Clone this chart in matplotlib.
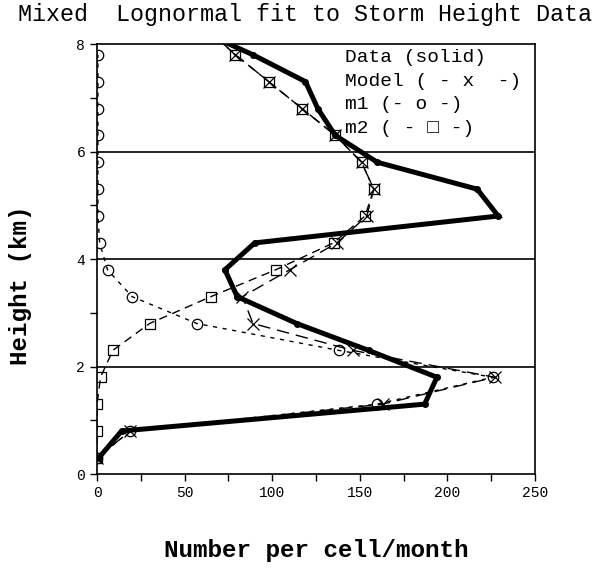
import matplotlib.pyplot as plt
import numpy as np
from matplotlib.ticker import MultipleLocator

# heights (km) of each bin, bottom to top
height = [0.3, 0.8, 1.3, 1.8, 2.3, 2.8, 3.3, 3.8, 4.3, 4.8, 5.3, 5.8, 6.3, 6.8, 7.3, 7.8, 8.3]

# counts per cell/month
data  = [1, 14, 187, 194, 155, 114, 80, 73, 90, 229, 217, 160, 136, 126, 119, 89, 55]
model = [0, 19, 163, 227, 146, 89, 83, 110, 137, 154, 158, 151, 136, 117, 98, 79, 62]
m1    = [0, 19, 160, 226, 138, 57, 20, 6, 1.5, 0.5, 0.5, 0.5, 0.5, 0.5, 0.5, 0.5]
m2    = [0, 0, 0, 2, 9, 30, 65, 102, 135, 153, 158, 151, 136, 117, 98, 79, 62]

mono = ['Liberation Mono', 'DejaVu Sans Mono']
plt.rcParams['font.family'] = mono

fig = plt.figure(figsize=(6.11, 5.77), dpi=100)
ax = fig.add_axes([0.1588, 0.1785, 0.7168, 0.7452])

for yg in [2, 4, 6]:
    ax.axhline(yg, color='black', lw=1.2, zorder=1)

ax.plot(m1, height[:len(m1)], color='black', lw=1, linestyle=(0, (3, 4)),
        marker='o', markersize=7.5, markerfacecolor='none', markeredgewidth=0.9,
        zorder=3)
ax.plot(m2, height, color='black', lw=1, linestyle=(0, (6, 4)),
        marker='s', markersize=7.5, markerfacecolor='none', markeredgewidth=0.9,
        zorder=3)
ax.plot(model, height, color='black', lw=1, linestyle=(0, (9, 5)),
        marker='x', markersize=8, markeredgewidth=0.9, zorder=3)
ax.plot(data, height, color='black', lw=3.6, solid_joinstyle='miter',
        marker='o', markersize=4, zorder=4)

ax.set_xlim(0, 250)
ax.set_ylim(0, 8)
ax.xaxis.set_major_locator(MultipleLocator(50))
ax.xaxis.set_minor_locator(MultipleLocator(25))
ax.yaxis.set_major_locator(MultipleLocator(2))
ax.yaxis.set_minor_locator(MultipleLocator(1))
ax.tick_params(which='both', direction='out', length=5, width=1, labelsize=10.5)
for s in ax.spines.values():
    s.set_linewidth(1.2)

ax.set_xlabel('Number per cell/month', fontsize=17.5, fontweight='bold')
ax.xaxis.set_label_coords(0.5, -0.152)
ax.set_ylabel('Height (km)', fontsize=17.5, fontweight='bold')
ax.yaxis.set_label_coords(-0.148, 0.44)

fig.text(0.03, 0.995, 'Mixed  Lognormal fit to Storm Height Data', fontsize=16.8,
         va='top', ha='left')

legend_lines = ['Data (solid)', 'Model ( - x  -)', 'm1 (- o -)', 'm2 ( - \u25a1 -)']
for i, t in enumerate(legend_lines):
    ax.text(0.567, 0.988 - i * 0.055, t, transform=ax.transAxes, fontsize=14,
            va='top', ha='left', family=mono, zorder=5)

fig.savefig('out.png', dpi=100)
